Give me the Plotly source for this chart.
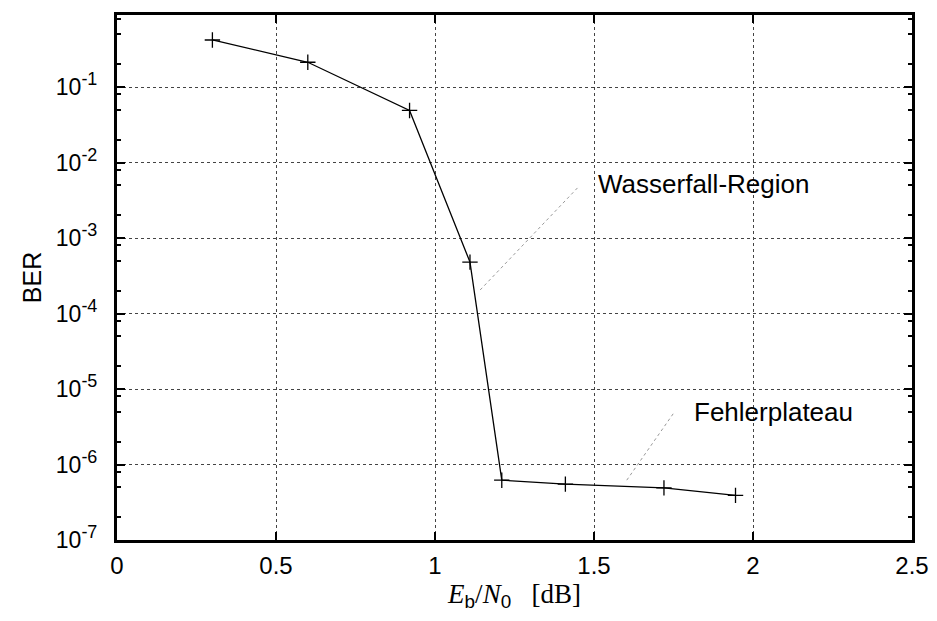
import plotly.graph_objects as go
import math

# Data
ebn0_db = [0.30, 0.60, 0.92, 1.11, 1.21, 1.41, 1.72, 1.945]
ber = [0.42, 0.213, 0.049, 4.8e-4, 6.2e-7, 5.5e-7, 4.9e-7, 3.9e-7]

# Annotation pointers (line from point on curve to label)
waterfall_x = [1.142, 1.454]
waterfall_y = [2.05e-4, 4.9e-3]
waterfall_label = "Wasserfall-Region"
waterfall_label_pos = (1.506, 10 ** -2.29)

plateau_x = [1.603, 1.752]
plateau_y = [6.2e-7, 4.9e-6]
plateau_label = "Fehlerplateau"
plateau_label_pos = (1.808, 10 ** -5.31)

x_ticks = [0, 0.5, 1, 1.5, 2, 2.5]
x_ticktext = ["0", "0.5", "1", "1.5", "2", "2.5"]
y_exponents = [-7, -6, -5, -4, -3, -2, -1]
y_ticks = [10 ** e for e in y_exponents]
y_ticktext = ["10<sup><span style='font-size:18px'>%d</span></sup>" % e for e in y_exponents]
y_minor = [m * 10 ** e for e in range(-7, 0) for m in (2, 5, 8)]

FONT = "Liberation Sans, Arial, Helvetica, sans-serif"
SERIF = "Liberation Serif, Times New Roman, serif"

fig = go.Figure()
fig.add_trace(go.Scatter(x=waterfall_x, y=waterfall_y, mode="lines",
                         line=dict(color="#999999", width=1, dash="dot"),
                         showlegend=False, hoverinfo="skip"))
fig.add_trace(go.Scatter(x=plateau_x, y=plateau_y, mode="lines",
                         line=dict(color="#999999", width=1, dash="dot"),
                         showlegend=False, hoverinfo="skip"))
fig.add_trace(go.Scatter(x=ebn0_db, y=ber, mode="lines+markers",
                         line=dict(color="black", width=1.3),
                         marker=dict(symbol="cross-thin", size=11,
                                     line=dict(color="black", width=1.3)),
                         showlegend=False))

fig.add_annotation(x=waterfall_label_pos[0], y=math.log10(waterfall_label_pos[1]),
                   text=waterfall_label, showarrow=False, xanchor="left",
                   yanchor="middle", font=dict(family=FONT, size=26, color="black"))
fig.add_annotation(x=plateau_label_pos[0], y=math.log10(plateau_label_pos[1]),
                   text=plateau_label, showarrow=False, xanchor="left",
                   yanchor="middle", font=dict(family=FONT, size=26, color="black"))

xtitle = ("<i>E</i><sub><span style='font-family:Liberation Sans'>b</span></sub>/"
          "<i>N</i><sub><span style='font-family:Liberation Sans'>0</span></sub>"
          "&nbsp;&nbsp;&nbsp;[dB]")

# The page body has an 8px margin; the figure is sized/margined to compensate.
fig.update_layout(
    width=929, height=613,
    margin=dict(l=109, r=25, t=4, b=81),
    plot_bgcolor="white", paper_bgcolor="white",
    font=dict(family=FONT, size=22, color="black"),
    xaxis=dict(
        range=[0, 2.5], tickmode="array", tickvals=x_ticks, ticktext=x_ticktext,
        ticks="inside", ticklen=8, tickwidth=2, tickcolor="black",
        showline=True, linewidth=3, linecolor="black", mirror="allticks",
        showgrid=True, gridcolor="#444444", griddash="dot", gridwidth=1,
        zeroline=False,
        title=dict(text=xtitle, font=dict(family=SERIF, size=27), standoff=6),
        tickfont=dict(size=24),
        ticklabelstandoff=2,
    ),
    yaxis=dict(
        type="log", range=[-7, math.log10(0.9)],
        tickmode="array", tickvals=y_ticks, ticktext=y_ticktext,
        ticks="inside", ticklen=8, tickwidth=2, tickcolor="black",
        showline=True, linewidth=3, linecolor="black", mirror="allticks",
        showgrid=True, gridcolor="#444444", griddash="dot", gridwidth=1,
        zeroline=False,
        minor=dict(tickmode="array", tickvals=y_minor, ticks="inside",
                   ticklen=4, tickwidth=2, tickcolor="black", showgrid=False),
        title=dict(text="BER", font=dict(size=25), standoff=8),
        tickfont=dict(size=23),
        ticklabelstandoff=12,
    ),
)

fig.write_html("out.html")
